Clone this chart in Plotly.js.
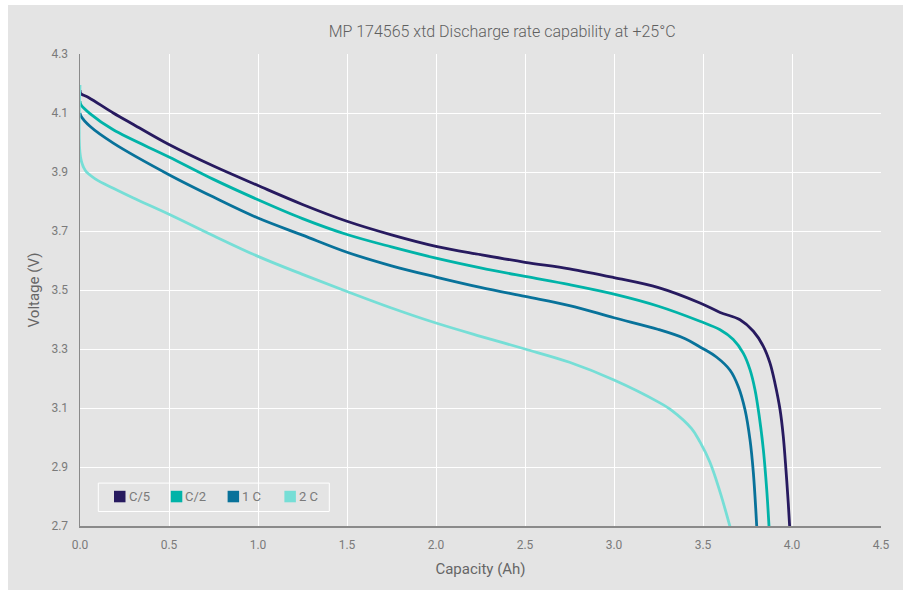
<!DOCTYPE html>
<html>
<head>
<meta charset="utf-8">
<script src="https://cdn.plot.ly/plotly-3.0.1.min.js"></script>
<style>
  html, body { margin: 0; padding: 0; background: #ffffff; }
  #chart { position: absolute; left: 8px; top: 5px; width: 895px; height: 585px; }
</style>
</head>
<body>
<div id="chart"></div>
<script>
// ---- Data ----
const seriesNames = ["C/5", "C/2", "1 C", "2 C"];
const seriesColors = ["#271a5f", "#00b3a8", "#08729a", "#76ded6"];

const capC5 = [0, 0.005, 0.05, 0.187, 0.3, 0.5, 0.75, 1.0, 1.25, 1.5, 1.75, 2.0, 2.25, 2.5, 2.75, 3.0, 3.25, 3.483, 3.596, 3.708, 3.783, 3.839, 3.876, 3.904, 3.933, 3.951, 3.966, 3.979, 3.987];
const voltC5 = [4.178, 4.166, 4.152, 4.10, 4.061, 3.993, 3.92, 3.854, 3.79, 3.733, 3.687, 3.648, 3.62, 3.594, 3.572, 3.542, 3.508, 3.456, 3.424, 3.399, 3.36, 3.309, 3.253, 3.185, 3.094, 3.004, 2.891, 2.778, 2.697];

const capC2 = [0, 0.005, 0.056, 0.187, 0.5, 0.75, 1.0, 1.25, 1.5, 1.75, 2.0, 2.25, 2.5, 2.75, 3.0, 3.25, 3.483, 3.596, 3.67, 3.726, 3.764, 3.792, 3.816, 3.839, 3.858, 3.871];
const voltC2 = [4.14, 4.128, 4.098, 4.043, 3.951, 3.875, 3.806, 3.742, 3.688, 3.646, 3.608, 3.575, 3.546, 3.518, 3.486, 3.445, 3.394, 3.365, 3.332, 3.286, 3.23, 3.162, 3.072, 2.959, 2.823, 2.697];

const cap1C = [0, 0.005, 0.056, 0.187, 0.5, 0.75, 1.0, 1.25, 1.5, 1.75, 2.0, 2.25, 2.5, 2.75, 3.0, 3.25, 3.4, 3.483, 3.577, 3.652, 3.698, 3.736, 3.764, 3.783, 3.802];
const volt1C = [4.10, 4.09, 4.055, 3.998, 3.891, 3.815, 3.744, 3.686, 3.628, 3.582, 3.544, 3.509, 3.478, 3.447, 3.406, 3.366, 3.335, 3.307, 3.272, 3.228, 3.173, 3.094, 2.993, 2.88, 2.697];

const cap2C = [0, 0.003, 0.03, 0.09, 0.187, 0.3, 0.5, 0.75, 1.0, 1.25, 1.5, 1.75, 2.0, 2.25, 2.5, 2.75, 3.0, 3.25, 3.324, 3.436, 3.483, 3.539, 3.596, 3.652];
const volt2C = [4.195, 3.95, 3.905, 3.875, 3.845, 3.812, 3.757, 3.684, 3.614, 3.553, 3.495, 3.439, 3.388, 3.343, 3.300, 3.255, 3.195, 3.12, 3.092, 3.03, 2.985, 2.916, 2.815, 2.697];

const xTickVals = [0, 0.5, 1, 1.5, 2, 2.5, 3, 3.5, 4, 4.5];
const yTickVals = [2.7, 2.9, 3.1, 3.3, 3.5, 3.7, 3.9, 4.1, 4.3];

const chartTitle = "MP 174565 xtd Discharge rate capability at +25°C";
const xTitle = "Capacity (Ah)";
const yTitle = "Voltage (V)";

// ---- Build traces ----
const capData = [capC5, capC2, cap1C, cap2C];
const voltData = [voltC5, voltC2, volt1C, volt2C];

const FONT = "Roboto, 'Open Sans', Arial, sans-serif";

const traces = [];
for (let i = 0; i < seriesNames.length; i++) {
  traces.push({
    x: capData[i], y: voltData[i],
    type: "scatter", mode: "lines",
    name: seriesNames[i], showlegend: false,
    line: { color: seriesColors[i], width: 2.8, shape: "spline", smoothing: 1 },
    hoverinfo: "skip"
  });
}

// ---- Legend (box with square swatches), placed in plot-area paper coords ----
const PW = 801, PH = 472; // plot area size in px
const px = v => v / PW, py = v => v / PH;
const shapes = [{
  type: "rect", xref: "paper", yref: "paper",
  x0: px(18.3), x1: px(249.3), y0: py(14.5), y1: py(42.9),
  line: { color: "#ffffff", width: 1 }, fillcolor: "rgba(0,0,0,0)"
}];
const annotations = [];
for (let i = 0; i < seriesNames.length; i++) {
  const left = 34 + i * 56.8;
  shapes.push({
    type: "rect", xref: "paper", yref: "paper",
    x0: px(left), x1: px(left + 11.5), y0: py(23.7), y1: py(35.2),
    line: { width: 0 }, fillcolor: seriesColors[i]
  });
  annotations.push({
    xref: "paper", yref: "paper",
    x: px(left + 12.5), y: py(29.5), xanchor: "left", yanchor: "middle",
    text: seriesNames[i], showarrow: false,
    font: { family: FONT, size: 13, color: "#7a7a7a" }
  });
}

const layout = {
  width: 895, height: 585,
  paper_bgcolor: "#e4e4e4",
  plot_bgcolor: "#e4e4e4",
  margin: { l: 72, r: 22, t: 49, b: 64 },
  title: {
    text: chartTitle,
    x: 0.527, xref: "paper", xanchor: "center",
    y: 0.955, yref: "container", yanchor: "middle",
    font: { family: FONT, size: 16, color: "#5f5f5f", weight: 300 }
  },
  xaxis: {
    range: [0, 4.5],
    tickvals: xTickVals,
    tickformat: ".1f",
    showgrid: true, gridcolor: "#ffffff", gridwidth: 1,
    zeroline: false,
    showline: true, linecolor: "#8a8a8a", linewidth: 1.5,
    ticks: "", ticklen: 0, ticklabelstandoff: 7,
    tickfont: { family: FONT, size: 12, color: "#7a7a7a" },
    title: { text: xTitle, standoff: 12, font: { family: FONT, size: 15, color: "#666666" } },
    fixedrange: true
  },
  yaxis: {
    range: [2.7, 4.3],
    tickvals: yTickVals,
    tickformat: ".1f",
    showgrid: true, gridcolor: "#ffffff", gridwidth: 1,
    zeroline: false,
    showline: true, linecolor: "#8a8a8a", linewidth: 1.5,
    ticks: "", ticklen: 0, ticklabelstandoff: 8,
    tickfont: { family: FONT, size: 12, color: "#7a7a7a" },
    title: { text: yTitle, standoff: 8, font: { family: FONT, size: 15, color: "#666666" } },
    fixedrange: true
  },
  showlegend: false,
  shapes: shapes,
  annotations: annotations
};

Plotly.newPlot("chart", traces, layout, { displayModeBar: false, staticPlot: true });
</script>
</body>
</html>
